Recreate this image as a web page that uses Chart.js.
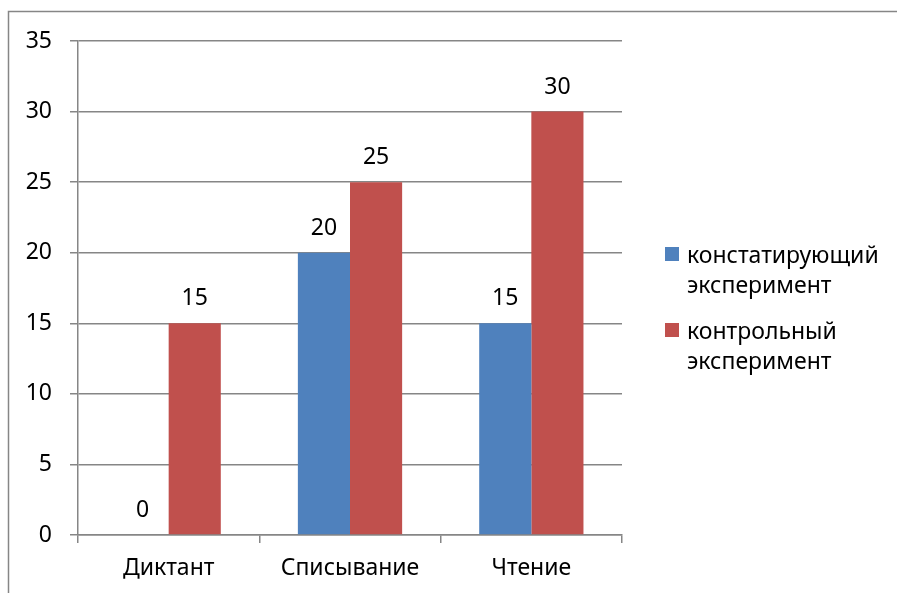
<!DOCTYPE html>
<html>
<head>
<meta charset="utf-8">
<script src="https://cdn.jsdelivr.net/npm/chart.js@4/dist/chart.umd.min.js"></script>
<style>
  html, body { margin: 0; padding: 0; background: #fff; }
  canvas { display: block; }
</style>
</head>
<body>
<canvas id="chart" width="897" height="593"></canvas>
<script>
// Categories and series values
const categories = ['Диктант', 'Списывание', 'Чтение'];
const seriesNames = ['констатирующий эксперимент', 'контрольный эксперимент'];
const ascertainingValues = [0, 20, 15];
const controlValues = [15, 25, 30];
const yTicks = [0, 5, 10, 15, 20, 25, 30, 35];

const seriesColors = ['#4F81BD', '#C0504D'];
const axisGray = '#868686';
const FONT = 'Noto Sans';
const FONT_SIZE = 23;

Chart.defaults.font.family = FONT;
Chart.defaults.font.size = FONT_SIZE;
Chart.defaults.color = '#000';

// Frame around the whole chart
const framePlugin = {
  id: 'frame',
  beforeDraw(chart) {
    const ctx = chart.ctx;
    ctx.save();
    ctx.fillStyle = '#fff';
    ctx.fillRect(0, 0, chart.width, chart.height);
    ctx.strokeStyle = axisGray;
    ctx.lineWidth = 1.5;
    ctx.strokeRect(8.5, 11.5, chart.width + 20, chart.height + 20);
    ctx.restore();
  }
};

// Value labels above each bar
const valueLabels = {
  id: 'valueLabels',
  afterDatasetsDraw(chart) {
    const ctx = chart.ctx;
    ctx.save();
    ctx.font = FONT_SIZE + 'px "' + FONT + '"';
    ctx.fillStyle = '#000';
    ctx.textAlign = 'center';
    ctx.textBaseline = 'alphabetic';
    chart.data.datasets.forEach((ds, i) => {
      chart.getDatasetMeta(i).data.forEach((bar, j) => {
        ctx.fillText(String(ds.data[j]), bar.x, bar.y - 18);
      });
    });
    ctx.restore();
  }
};

// Legend on the right with labels wrapped onto two lines
const sideLegend = {
  id: 'sideLegend',
  afterDraw(chart) {
    const ctx = chart.ctx;
    ctx.save();
    ctx.font = FONT_SIZE + 'px "' + FONT + '"';
    ctx.textAlign = 'left';
    ctx.textBaseline = 'alphabetic';
    const boxX = 665, textX = 687, box = 14;
    const firstTop = 247, entryGap = 76, lineGap = 30;
    chart.data.datasets.forEach((ds, i) => {
      const top = firstTop + i * entryGap;
      ctx.fillStyle = ds.backgroundColor;
      ctx.fillRect(boxX, top, box, box);
      ctx.fillStyle = '#000';
      ds.label.split(' ').forEach((line, k) => {
        ctx.fillText(line, textX, top + 16 + k * lineGap);
      });
    });
    ctx.restore();
  }
};

new Chart(document.getElementById('chart'), {
  type: 'bar',
  data: {
    labels: categories,
    datasets: [
      { label: seriesNames[0], data: ascertainingValues, backgroundColor: seriesColors[0] },
      { label: seriesNames[1], data: controlValues, backgroundColor: seriesColors[1] }
    ]
  },
  options: {
    responsive: false,
    animation: false,
    devicePixelRatio: 1,
    layout: { padding: { left: 0, top: 41, right: 275, bottom: 0 } },
    datasets: { bar: { categoryPercentage: 0.575, barPercentage: 1.0 } },
    plugins: {
      legend: { display: false },
      tooltip: { enabled: false }
    },
    scales: {
      x: {
        grid: { display: true, offset: true, drawOnChartArea: false, color: axisGray, tickLength: 8, lineWidth: 1.5 },
        border: { display: true, color: axisGray, width: 1.5 },
        ticks: { padding: 12, color: '#000', font: { size: FONT_SIZE } },
        afterFit(scale) { scale.height = 58; }
      },
      y: {
        min: 0,
        max: 35,
        afterBuildTicks(scale) { scale.ticks = yTicks.map(v => ({ value: v })); },
        grid: { color: axisGray, tickLength: 8, lineWidth: 1.5 },
        border: { display: true, color: axisGray, width: 1.5 },
        ticks: { padding: 18, color: '#000', font: { size: FONT_SIZE } },
        afterFit(scale) { scale.width = 78; }
      }
    }
  },
  plugins: [framePlugin, valueLabels, sideLegend]
});
</script>
</body>
</html>
